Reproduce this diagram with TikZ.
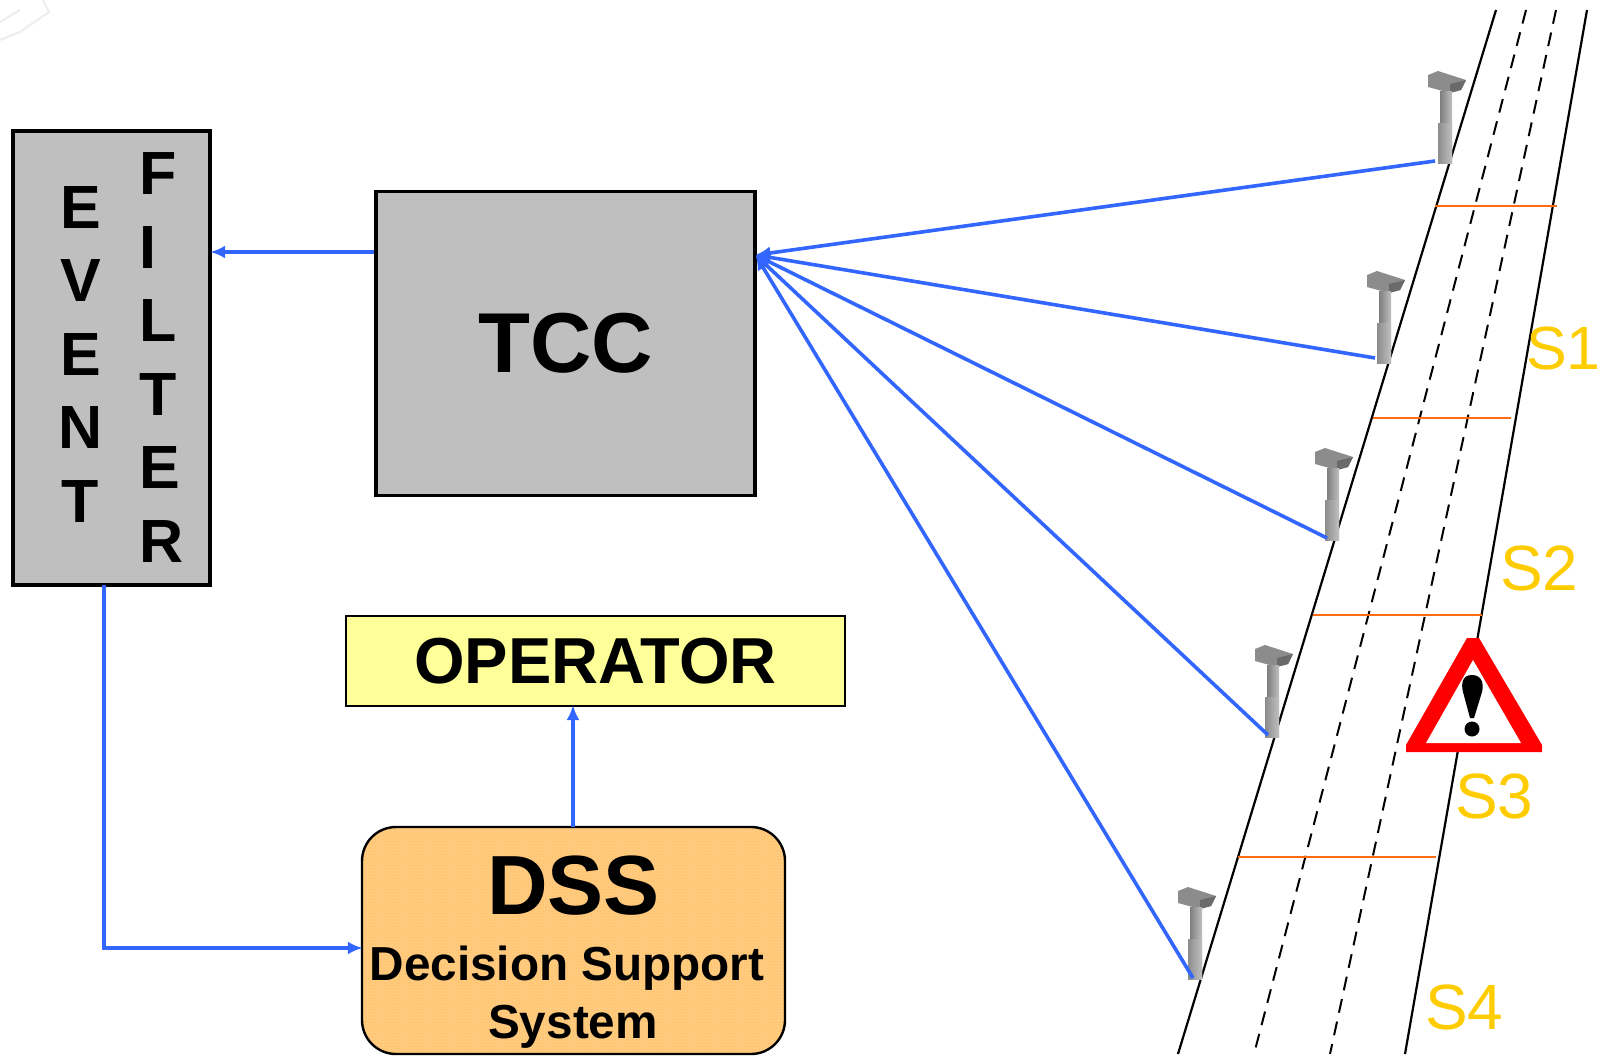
\documentclass[tikz,border=0pt]{standalone}
\usepackage{fontspec}
\setmainfont{Liberation Sans}
\usetikzlibrary{arrows.meta,patterns}
\definecolor{linkblue}{HTML}{3366FF}
\definecolor{boxgray}{HTML}{BFBFBF}
\definecolor{opyellow}{HTML}{FFFF99}
\definecolor{dssorange}{HTML}{FFCB80}
\definecolor{dssdots}{HTML}{FFAE30}
\definecolor{seglabel}{HTML}{FFCC00}
\definecolor{segline}{HTML}{FF6A13}
\definecolor{camA}{HTML}{8C8C8C}
\definecolor{camB}{HTML}{6A6A6A}
\definecolor{camC}{HTML}{7E7E7E}
\definecolor{camD}{HTML}{C0C0C0}
\tikzset{
  x=1pt,y=-1pt,
  graybox/.style={draw=black,fill=boxgray,line width=3.8pt,inner sep=0pt,minimum width=#1,align=center},
  link/.style={draw=linkblue,line width=3.6pt},
  smalltip/.style={-{Latex[length=15pt,width=13pt]}},
  road/.style={draw=black,line width=2.2pt},
  lane/.style={draw=black,line width=2pt,dash pattern=on 14pt off 9pt},
  segment/.style={draw=segline,line width=2pt},
  seglab/.style={text=seglabel,anchor=base west,inner sep=0pt,font=\fontsize{64}{64}\selectfont},
  filtertext/.style={inner sep=0pt,font=\fontsize{61}{73.5}\bfseries\selectfont},
  pics/camera/.style={code={
    \fill[camA] (0,4)--(10,0)--(38,9)--(33,19)--(22,22)--(0,16)--cycle;
    \fill[camB] (22,13)--(38,9)--(33,19)--(22,22)--cycle;
    \shade[left color=camC,right color=camD] (12,20) rectangle (24,92);
    \shade[left color=camA,right color=camD] (10,52) rectangle (24,92);
  }}
}
\begin{document}
\begin{tikzpicture}
\useasboundingbox (0,0) rectangle (1601,1055);
% faint smudge in the corner
\draw[gray!14,line width=2pt] (0,22)--(20,10) (0,40)--(20,32)--(49,12)--(43,0);
% road
\coordinate (r1a) at (1496,10); \coordinate (r1b) at (1178,1054);
\coordinate (r2a) at (1587,10); \coordinate (r2b) at (1405,1054);
\coordinate (l1a) at (1526,10); \coordinate (l1b) at (1254,1054);
\coordinate (l2a) at (1556,10); \coordinate (l2b) at (1330,1054);
\draw[road] (r1a)--(r1b);
\draw[road] (r2a)--(r2b);
\draw[lane] (l1a)--(l1b);
\draw[lane] (l2a)--(l2b);
\coordinate (s1a) at (1435,206); \coordinate (s1b) at (1557,206);
\coordinate (s2a) at (1373,418); \coordinate (s2b) at (1511,418);
\coordinate (s3a) at (1313,615); \coordinate (s3b) at (1482,615);
\coordinate (s4a) at (1238,857); \coordinate (s4b) at (1436,857);
\draw[segment] (s1a)--(s1b);
\draw[segment] (s2a)--(s2b);
\draw[segment] (s3a)--(s3b);
\draw[segment] (s4a)--(s4b);
% boxes
\node[graybox=197pt,minimum height=454pt] (filter) at (111.8,358) {};
\node[filtertext,anchor=north,align=center] (eventtxt) at (80.5,186) {E\\V\\E\\N\\T};
\node[filtertext,anchor=north west,align=left] (filtertxt) at (139,152.5) {F\\I\\L\\T\\E\\R};
\node[graybox=379pt,minimum height=304pt,font=\fontsize{85}{85}\bfseries\selectfont] (tcc) at (565.7,343.5) {TCC};
\node[draw=black,fill=opyellow,line width=1.6pt,minimum width=499pt,minimum height=90pt,inner sep=0pt,font=\fontsize{65}{65}\bfseries\selectfont] (op) at (595.5,661) {OPERATOR};
\node[draw=black,preaction={fill=dssorange},pattern=dots,pattern color=dssdots,line width=2.4pt,rounded corners=34pt,minimum width=423pt,minimum height=227pt,inner sep=0pt] (dss) at (573.5,940.5) {};
\node[inner sep=0pt,anchor=base,font=\fontsize{84}{84}\bfseries\selectfont] (dsstitle) at (573.5,914) {DSS};
\node[inner sep=0pt,anchor=base,font=\fontsize{47.7}{47.7}\bfseries\selectfont] (dssline1) at (567,980) {Decision Support};
\node[inner sep=0pt,anchor=base,font=\fontsize{47.7}{47.7}\bfseries\selectfont] (dssline2) at (573,1038) {System};
% connector ports
\coordinate (tccin) at (755.5,255);
\coordinate (tccout) at (tcc.west |- 0,252);
\coordinate (filterin) at ([xshift=-2pt]filter.east |- 0,252);
\coordinate (filterout) at (104,585);
\coordinate (corner) at (104,948);
\coordinate (dssin) at ([xshift=2pt]dss.west |- 0,948);
\coordinate (dssout) at (573,827);
\coordinate (opin) at (573,705);
% cameras
\pic at (1428,71) {camera};
\pic at (1367,271) {camera};
\pic at (1315,448) {camera};
\pic at (1255,645) {camera};
\pic at (1178,887) {camera};
\coordinate (cam1) at (1435,161);
\coordinate (cam2) at (1375,358);
\coordinate (cam3) at (1327,538);
\coordinate (cam4) at (1268,735);
\coordinate (cam5) at (1193,978);
% links
\draw[link,smalltip] (cam1)--(tccin);
\draw[link,smalltip] (cam2)--(tccin);
\draw[link,smalltip] (cam3)--(tccin);
\draw[link,smalltip] (cam4)--(tccin);
\draw[link,smalltip] (cam5)--(tccin);
\draw[link,smalltip] (tccout)--(filterin);
\draw[link,smalltip] (filterout)--(corner)--(dssin);
\draw[link,smalltip] (dssout)--(opin);
% warning sign
\fill[red] (1467,638)--(1479,638)--(1542,745)--(1542,752)--(1406,752)--(1406,745)--cycle;
\fill[white] (1473,660)--(1521,743)--(1426,743)--cycle;
\fill[black] (1472,675) .. controls (1462,675) and (1461,684) .. (1463,692) -- (1470,718) -- (1474,718) -- (1482,692) .. controls (1484,684) and (1482,675) .. (1472,675) -- cycle;
\fill[black] (1472,729) circle (7.5);
% segment labels
\node[seglab,font=\fontsize{61}{61}\selectfont] (S1) at (1526,369) {S1};
\node[seglab] (S2) at (1500,590) {S2};
\node[seglab] (S3) at (1455,818) {S3};
\node[seglab] (S4) at (1425,1029) {S4};
\end{tikzpicture}
\end{document}
